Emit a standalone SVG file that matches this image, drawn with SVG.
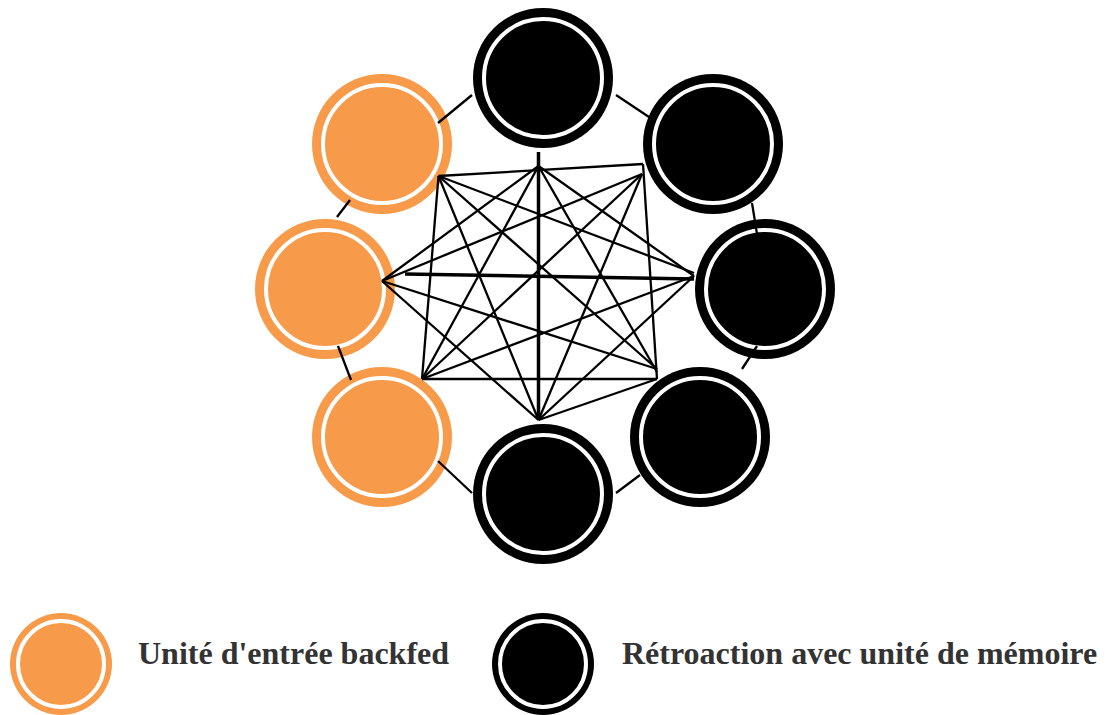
<svg xmlns="http://www.w3.org/2000/svg" width="1106" height="715" viewBox="0 0 1106 715">
<style>
.orange{fill:#F79A4A}
.black{fill:#000}
.ring{fill:none;stroke:#fff;stroke-width:4}
.edge{stroke:#000;stroke-width:2.3;fill:none;stroke-linecap:butt}
.thick{stroke:#000;stroke-width:3.5;fill:none}
.label{font-family:"Liberation Serif","Times New Roman",serif;font-weight:bold;font-size:32px;fill:#333}
</style>
<rect width="1106" height="715" fill="#fff"/>
<g id="n1"><circle class="black" cx="543" cy="78" r="70"/><circle class="ring" cx="543" cy="78" r="59"/></g>
<g id="n2"><circle class="orange" cx="382" cy="144" r="70"/><circle class="ring" cx="382" cy="144" r="59"/></g>
<g id="n3"><circle class="black" cx="713" cy="144" r="70"/><circle class="ring" cx="713" cy="144" r="59"/></g>
<g id="n4"><circle class="orange" cx="325" cy="289" r="70"/><circle class="ring" cx="325" cy="289" r="59"/></g>
<g id="n5"><circle class="black" cx="765" cy="289" r="70"/><circle class="ring" cx="765" cy="289" r="59"/></g>
<g id="n6"><circle class="orange" cx="382" cy="437" r="70"/><circle class="ring" cx="382" cy="437" r="59"/></g>
<g id="n7"><circle class="black" cx="700" cy="437" r="70"/><circle class="ring" cx="700" cy="437" r="59"/></g>
<g id="n8"><circle class="black" cx="543" cy="494" r="70"/><circle class="ring" cx="543" cy="494" r="59"/></g>
<g id="connectors">
<line class="edge" x1="438" y1="123" x2="472" y2="95"/>
<line class="edge" x1="616" y1="95" x2="652" y2="119"/>
<line class="edge" x1="350" y1="200" x2="337" y2="217"/>
<line class="edge" x1="338" y1="346" x2="351" y2="380"/>
<line class="edge" x1="752" y1="203" x2="757" y2="234"/>
<line class="edge" x1="757" y1="346" x2="742" y2="369"/>
<line class="edge" x1="438" y1="461" x2="472" y2="493"/>
<line class="edge" x1="616" y1="493" x2="640" y2="475"/>
<line class="thick" x1="538.5" y1="152" x2="538.5" y2="420"/>
<line class="thick" x1="405" y1="274" x2="694" y2="279"/>
<line class="edge" x1="538.5" y1="166" x2="382" y2="281"/>
<line class="edge" x1="538.5" y1="166" x2="694" y2="276"/>
<line class="edge" x1="538.5" y1="166" x2="422" y2="379"/>
<line class="edge" x1="538.5" y1="166" x2="657" y2="372"/>
<line class="edge" x1="438.5" y1="176" x2="643" y2="164"/>
<line class="edge" x1="438.5" y1="176" x2="694" y2="273"/>
<line class="edge" x1="438.5" y1="176" x2="422" y2="379"/>
<line class="edge" x1="438.5" y1="176" x2="657" y2="369"/>
<line class="edge" x1="438.5" y1="176" x2="538.5" y2="420"/>
<line class="edge" x1="642" y1="174" x2="382" y2="281"/>
<line class="edge" x1="642" y1="174" x2="422" y2="379"/>
<line class="edge" x1="643" y1="164" x2="657" y2="379"/>
<line class="edge" x1="642" y1="174" x2="538.5" y2="420"/>
<line class="edge" x1="382" y1="281" x2="657" y2="369"/>
<line class="edge" x1="382" y1="281" x2="538.5" y2="420"/>
<line class="edge" x1="694" y1="276" x2="422" y2="379"/>
<line class="edge" x1="694" y1="276" x2="538.5" y2="420"/>
<line class="edge" x1="422" y1="379" x2="657" y2="379"/>
<line class="edge" x1="657" y1="379" x2="538.5" y2="420"/>
</g>
<g id="legend-input">
<circle class="orange" cx="61" cy="664" r="51"/><circle class="ring" cx="61" cy="664" r="43"/>
<text class="label" x="138" y="664">Unité d'entrée backfed</text>
</g>
<g id="legend-memory">
<circle class="black" cx="543" cy="664" r="51"/><circle class="ring" cx="543" cy="664" r="43"/>
<text class="label" x="622" y="664">Rétroaction avec unité de mémoire</text>
</g>
</svg>
